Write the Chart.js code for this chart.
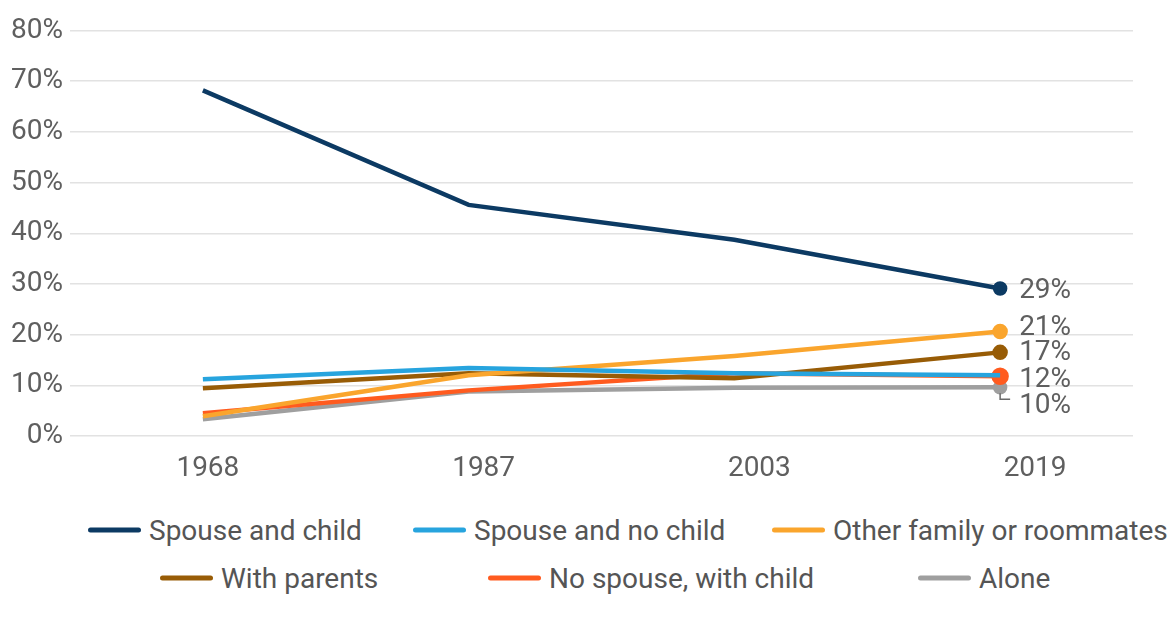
<!DOCTYPE html>
<html>
<head>
<meta charset="utf-8">
<script src="https://cdn.jsdelivr.net/npm/chart.js@4"></script>
<style>
  html, body { margin: 0; padding: 0; background: #fff; }
  body { width: 1171px; height: 619px; overflow: hidden; font-family: Roboto, "Noto Sans", sans-serif; }
  #wrap { position: relative; width: 1171px; height: 500px; }
  .legend { position: relative; color: #555; font-size: 28px; height: 119px; }
  .item { position: absolute; display: flex; align-items: center; white-space: nowrap; transform: translateY(-50%); }
  .swatch { width: 53px; height: 5px; border-radius: 3px; margin-right: 8px; }
</style>
</head>
<body>
<div id="wrap"><canvas id="householdChart"></canvas></div>
<div class="legend" id="legend"></div>
<script>
// survey years and share of young adults by living arrangement (%)
const years = ["1968", "1987", "2003", "2019"];
const spouseAndChild = [68.2, 45.6, 38.7, 29.1];
const spouseNoChild = [11.2, 13.4, 12.4, 12.0];
const otherFamily = [3.9, 12.0, 15.8, 20.6];
const withParents = [9.4, 12.4, 11.4, 16.5];
const noSpouseWithChild = [4.5, 9.0, 12.4, 11.8];
const alone = [3.3, 8.8, 9.5, 9.6];
const yTicks = [0, 10, 20, 30, 40, 50, 60, 70, 80];

const series = [
    { label: "Spouse and child", data: spouseAndChild, color: "#0c3a63", end: "29%", dy: 3, r: 5 },
    { label: "Spouse and no child", data: spouseNoChild, color: "#27a4de", end: null, r: 0 },
    { label: "Other family or roommates", data: otherFamily, color: "#faa52d", end: "21%", dy: -4, r: 5.5 },
    { label: "With parents", data: withParents, color: "#985c06", end: "17%", dy: 1, r: 5.5 },
    { label: "No spouse, with child", data: noSpouseWithChild, color: "#ff5b1f", end: "12%", dy: 4, r: 6.5 },
    { label: "Alone", data: alone, color: "#9f9f9f", end: "10%", dy: 19, r: 5, leader: true }
];

// legend item positions (left edge, row centre)
const legendPos = [[88, 30], [413, 30], [772, 30], [160, 78], [488, 78], [918, 78]];

// value labels at the right end of each line
const endLabels = {
    id: "endLabels",
    afterDatasetsDraw(chart) {
        const ctx = chart.ctx;
        ctx.save();
        ctx.font = "28px Roboto";
        ctx.fillStyle = "#5f5f5f";
        ctx.textBaseline = "middle";
        series.forEach((s, i) => {
            if (!s.end) return;
            const pt = chart.getDatasetMeta(i).data[s.data.length - 1];
            const x = pt.x + 19;
            const y = pt.y + s.dy;
            if (s.leader) {
                ctx.strokeStyle = "#6a6a6a";
                ctx.lineWidth = 1.5;
                ctx.beginPath();
                ctx.moveTo(pt.x, pt.y + 6);
                ctx.lineTo(pt.x, pt.y + 12);
                ctx.lineTo(pt.x + 10, pt.y + 12);
                ctx.stroke();
            }
            ctx.fillText(s.end, x, y);
        });
        ctx.restore();
    }
};

const ctx = document.getElementById("householdChart").getContext("2d");
const householdChart = new Chart(ctx, {
    type: "line",
    data: {
        datasets: series.map(s => ({
            label: s.label,
            data: s.data.map((v, i) => ({ x: i, y: v })),
            borderColor: s.color,
            backgroundColor: s.color,
            borderWidth: 4.5,
            pointRadius: s.data.map((v, i) => (i === s.data.length - 1 ? s.r : 0)),
            pointHoverRadius: 0,
            tension: 0
        }))
    },
    options: {
        responsive: true,
        maintainAspectRatio: false,
        animation: false,
        layout: { padding: { top: 30.5, right: 38, left: 0, bottom: 0 } },
        plugins: {
            legend: { display: false },
            tooltip: { enabled: false }
        },
        scales: {
            // data positions
            x: {
                type: "linear",
                min: -0.5,
                max: 3.5,
                display: false
            },
            // year labels along the bottom
            years: {
                type: "linear",
                axis: "x",
                position: "bottom",
                min: -0.5,
                max: 3.355,
                afterBuildTicks: axis => { axis.ticks = years.map((y, i) => ({ value: i })); },
                afterFit: axis => { axis.height = 64; },
                grid: { display: false },
                border: { display: false },
                ticks: {
                    callback: v => years[v],
                    color: "#5f5f5f",
                    font: { family: "Roboto", size: 28 },
                    padding: 8,
                    maxRotation: 0
                }
            },
            y: {
                min: 0,
                max: 80,
                afterBuildTicks: axis => { axis.ticks = yTicks.map(v => ({ value: v })); },
                afterFit: axis => { axis.width = 70; },
                grid: { color: "#e2e2e2", lineWidth: 1.5, drawTicks: false },
                border: { display: false },
                ticks: {
                    callback: v => v + "%",
                    color: "#5f5f5f",
                    font: { family: "Roboto", size: 28 },
                    padding: 7
                }
            }
        }
    },
    plugins: [endLabels]
});

// legend in two rows below the chart
const legendEl = document.getElementById("legend");
series.forEach((s, i) => {
    const item = document.createElement("div");
    item.className = "item";
    item.style.left = legendPos[i][0] + "px";
    item.style.top = legendPos[i][1] + "px";
    item.innerHTML = '<span class="swatch" style="background:' + s.color + '"></span>' + s.label;
    legendEl.appendChild(item);
});
</script>
</body>
</html>
